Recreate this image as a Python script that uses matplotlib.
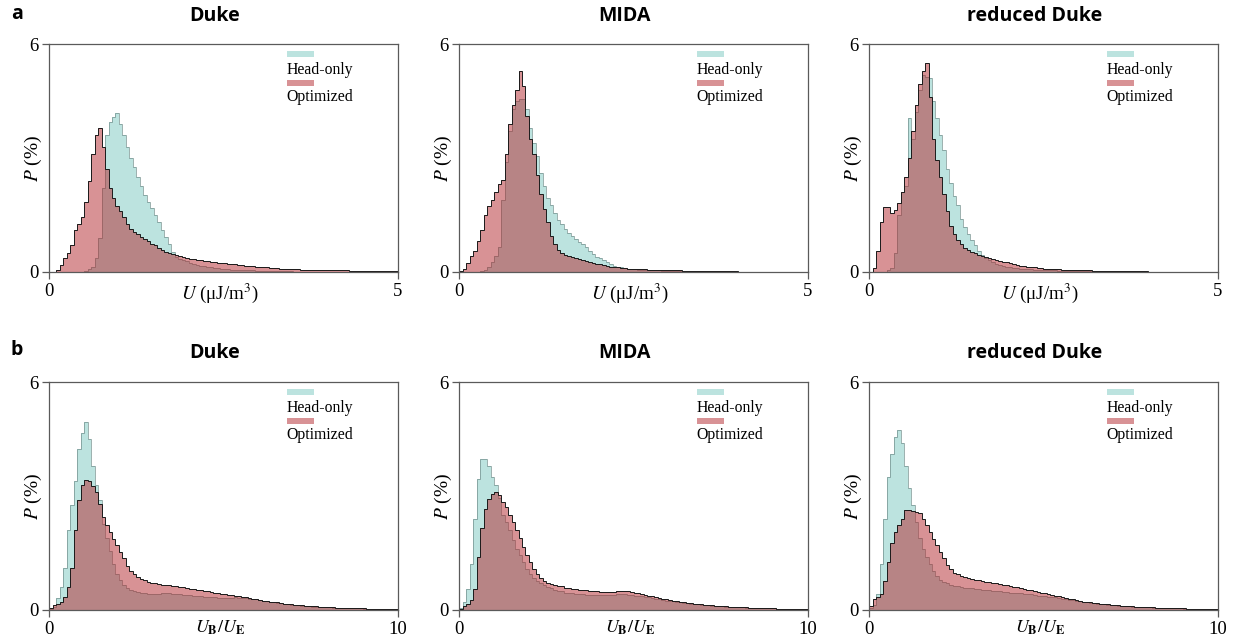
import numpy as np
import matplotlib
matplotlib.use("Agg")
import matplotlib.pyplot as plt
from matplotlib.patches import Rectangle

# ---------------- data ----------------
titles = ["Duke", "MIDA", "reduced Duke"]
row_letters = ["a", "b"]
legend_labels = ["Head-only", "Optimized"]
y_ticks = [0, 6]

# Row a: U (uJ/m^3), 100 bins of width 0.05 from 0 to 5, P in %
u_edges = np.linspace(0, 5, 101)
u_xticks = [0, 5]
duke_u_head = [0, 0, 0, 0, 0, 0, 0, 0, 0, 0,
               0.02, 0.07, 0.13, 0.35, 0.9, 2.2, 3.6, 3.95, 4.07, 4.18,
               3.9, 3.6, 3.3, 3.0, 2.75, 2.5, 2.27, 2.03, 1.85, 1.67,
               1.5, 1.32, 1.1, 0.92, 0.72, 0.52, 0.38, 0.33, 0.30, 0.27,
               0.24, 0.21, 0.18, 0.16, 0.14, 0.12, 0.11, 0.10, 0.09, 0.08,
               0.07, 0.06, 0.05, 0.05, 0.04, 0.04, 0.03, 0.03, 0.03, 0.02,
               0.02, 0.02, 0.02, 0.02, 0.01, 0.01, 0.01, 0.01, 0.01, 0.01,
               0, 0, 0, 0, 0, 0, 0, 0, 0, 0,
               0, 0, 0, 0, 0, 0, 0, 0, 0, 0,
               0, 0, 0, 0, 0, 0, 0, 0, 0, 0]
duke_u_opt = [0, 0, 0.05, 0.18, 0.35, 0.5, 0.7, 1.1, 1.25, 1.45,
              1.85, 2.4, 3.1, 3.6, 3.8, 3.3, 2.7, 2.2, 1.95, 1.72,
              1.6, 1.45, 1.25, 1.12, 1.05, 0.98, 0.92, 0.86, 0.8, 0.73,
              0.69, 0.62, 0.57, 0.53, 0.49, 0.47, 0.44, 0.40, 0.38, 0.35,
              0.34, 0.32, 0.31, 0.30, 0.29, 0.28, 0.26, 0.25, 0.24, 0.23,
              0.22, 0.21, 0.20, 0.19, 0.18, 0.17, 0.16, 0.15, 0.14, 0.13,
              0.12, 0.12, 0.11, 0.10, 0.09, 0.09, 0.08, 0.08, 0.07, 0.07,
              0.06, 0.06, 0.05, 0.05, 0.05, 0.05, 0.04, 0.04, 0.04, 0.04,
              0.03, 0.03, 0.03, 0.03, 0.03, 0.03, 0.02, 0.02, 0.02, 0.02,
              0.02, 0.02, 0.02, 0.02, 0.01, 0.01, 0.01, 0.01, 0.01, 0.01]
mida_u_head = [0, 0, 0, 0, 0, 0, 0.01, 0.04, 0.12, 0.25,
               0.42, 0.65, 1.9, 2.9, 3.7, 4.3, 4.5, 4.55, 4.55, 4.3,
               3.8, 3.4, 3.05, 2.6, 2.25, 1.95, 1.75, 1.55, 1.37, 1.25,
               1.12, 1.03, 0.94, 0.85, 0.78, 0.72, 0.64, 0.55, 0.46, 0.38,
               0.35, 0.30, 0.25, 0.20, 0.16, 0.13, 0.11, 0.09, 0.08, 0.07,
               0.06, 0.05, 0.05, 0.04, 0.04, 0.03, 0.03, 0.03, 0.02, 0.02,
               0.02, 0.02, 0.02, 0.01, 0.01, 0.01, 0.01, 0.01, 0.01, 0.01,
               0, 0, 0, 0, 0, 0, 0, 0, 0, 0,
               0, 0, 0, 0, 0, 0, 0, 0, 0, 0,
               0, 0, 0, 0, 0, 0, 0, 0, 0, 0]
mida_u_opt = [0.02, 0.07, 0.22, 0.4, 0.55, 0.8, 1.1, 1.5, 1.72, 1.9,
              2.1, 2.3, 2.42, 3.1, 3.9, 4.4, 4.8, 5.3, 4.9, 4.1,
              3.5, 3.1, 2.55, 2.05, 1.65, 1.3, 0.95, 0.72, 0.58, 0.5,
              0.45, 0.41, 0.38, 0.35, 0.33, 0.30, 0.28, 0.25, 0.23, 0.21,
              0.19, 0.17, 0.15, 0.13, 0.12, 0.11, 0.10, 0.09, 0.08, 0.08,
              0.07, 0.07, 0.06, 0.06, 0.05, 0.05, 0.05, 0.04, 0.04, 0.04,
              0.03, 0.03, 0.03, 0.03, 0.02, 0.02, 0.02, 0.02, 0.02, 0.02,
              0.01, 0.01, 0.01, 0.01, 0.01, 0.01, 0.01, 0.01, 0.01, 0.01,
              0, 0, 0, 0, 0, 0, 0, 0, 0, 0,
              0, 0, 0, 0, 0, 0, 0, 0, 0, 0]
red_u_head = [0, 0, 0, 0, 0, 0.04, 0.1, 0.5, 1.5, 2.1,
              2.25, 4.05, 3.5, 4.2, 4.8, 5.2, 5.15, 5.1, 4.5, 4.05,
              3.6, 3.2, 2.7, 2.35, 2.0, 1.75, 1.4, 1.18, 0.98, 0.83,
              0.70, 0.55, 0.44, 0.37, 0.30, 0.25, 0.21, 0.18, 0.15, 0.13,
              0.11, 0.10, 0.09, 0.08, 0.07, 0.06, 0.06, 0.05, 0.05, 0.04,
              0.04, 0.03, 0.03, 0.03, 0.02, 0.02, 0.02, 0.02, 0.01, 0.01,
              0.01, 0.01, 0.01, 0.01, 0.01, 0, 0, 0, 0, 0,
              0, 0, 0, 0, 0, 0, 0, 0, 0, 0,
              0, 0, 0, 0, 0, 0, 0, 0, 0, 0,
              0, 0, 0, 0, 0, 0, 0, 0, 0, 0]
red_u_opt = [0, 0.1, 0.55, 1.3, 1.7, 1.7, 1.56, 1.62, 1.8, 2.1,
             2.5, 3.0, 3.7, 4.4, 4.95, 5.3, 5.5, 4.6, 3.5, 2.95,
             2.5, 2.05, 1.6, 1.2, 0.98, 0.83, 0.72, 0.63, 0.57, 0.53,
             0.48, 0.44, 0.40, 0.38, 0.35, 0.33, 0.31, 0.28, 0.26, 0.25,
             0.22, 0.20, 0.18, 0.16, 0.14, 0.13, 0.12, 0.11, 0.10, 0.09,
             0.08, 0.07, 0.07, 0.06, 0.06, 0.05, 0.05, 0.04, 0.04, 0.04,
             0.03, 0.03, 0.03, 0.03, 0.02, 0.02, 0.02, 0.02, 0.02, 0.02,
             0.01, 0.01, 0.01, 0.01, 0.01, 0.01, 0.01, 0.01, 0.01, 0.01,
             0, 0, 0, 0, 0, 0, 0, 0, 0, 0,
             0, 0, 0, 0, 0, 0, 0, 0, 0, 0]

# Row b: U_B/U_E, 100 bins of width 0.1 from 0 to 10, P in %
r_edges = np.linspace(0, 10, 101)
r_xticks = [0, 10]
duke_r_head = [0.02, 0.07, 0.3, 0.6, 1.1, 2.1, 2.75, 3.4, 4.25, 4.65,
               4.95, 4.5, 3.8, 3.3, 2.9, 2.25, 1.9, 1.55, 1.2, 0.95,
               0.77, 0.66, 0.58, 0.53, 0.49, 0.47, 0.45, 0.43, 0.42, 0.41,
               0.42, 0.42, 0.43, 0.43, 0.43, 0.42, 0.41, 0.40, 0.39, 0.39,
               0.38, 0.37, 0.36, 0.35, 0.34, 0.33, 0.33, 0.32, 0.31, 0.30,
               0.30, 0.30, 0.31, 0.32, 0.31, 0.30, 0.30, 0.29, 0.28, 0.27,
               0.26, 0.24, 0.23, 0.21, 0.20, 0.18, 0.17, 0.15, 0.14, 0.13,
               0.12, 0.11, 0.10, 0.10, 0.09, 0.08, 0.08, 0.07, 0.07, 0.06,
               0.06, 0.05, 0.05, 0.04, 0.04, 0.04, 0.03, 0.03, 0.03, 0.03,
               0.02, 0.02, 0.02, 0.02, 0.02, 0.01, 0.01, 0.01, 0.01, 0.01]
duke_r_opt = [0.05, 0.12, 0.16, 0.2, 0.33, 0.6, 1.1, 2.1, 2.9, 3.3,
              3.42, 3.4, 3.25, 3.1, 2.8, 2.45, 2.22, 2.05, 1.87, 1.7,
              1.52, 1.35, 1.16, 1.03, 0.93, 0.86, 0.82, 0.78, 0.73, 0.70,
              0.69, 0.68, 0.66, 0.65, 0.64, 0.63, 0.62, 0.60, 0.59, 0.58,
              0.55, 0.54, 0.53, 0.51, 0.50, 0.48, 0.46, 0.45, 0.43, 0.42,
              0.40, 0.39, 0.38, 0.37, 0.36, 0.34, 0.33, 0.31, 0.29, 0.27,
              0.26, 0.24, 0.23, 0.21, 0.20, 0.19, 0.17, 0.16, 0.15, 0.14,
              0.13, 0.12, 0.11, 0.10, 0.10, 0.09, 0.09, 0.08, 0.07, 0.07,
              0.06, 0.06, 0.05, 0.05, 0.04, 0.04, 0.04, 0.03, 0.03, 0.03,
              0.03, 0.02, 0.02, 0.02, 0.02, 0.01, 0.01, 0.01, 0.01, 0.01]
mida_r_head = [0.03, 0.2, 0.55, 1.2, 2.4, 3.45, 3.97, 3.97, 3.8, 3.5,
               3.28, 2.95, 2.5, 2.3, 2.1, 1.85, 1.6, 1.43, 1.25, 1.08,
               0.93, 0.84, 0.75, 0.69, 0.64, 0.60, 0.56, 0.53, 0.50, 0.48,
               0.45, 0.44, 0.43, 0.42, 0.41, 0.40, 0.39, 0.39, 0.38, 0.38,
               0.38, 0.38, 0.38, 0.39, 0.39, 0.40, 0.40, 0.40, 0.39, 0.38,
               0.37, 0.36, 0.35, 0.33, 0.32, 0.30, 0.28, 0.27, 0.25, 0.24,
               0.23, 0.22, 0.20, 0.19, 0.18, 0.17, 0.16, 0.15, 0.14, 0.13,
               0.12, 0.11, 0.10, 0.10, 0.09, 0.09, 0.08, 0.08, 0.07, 0.07,
               0.06, 0.06, 0.05, 0.05, 0.04, 0.04, 0.04, 0.03, 0.03, 0.03,
               0.03, 0.02, 0.02, 0.02, 0.02, 0.01, 0.01, 0.01, 0.01, 0.01]
mida_r_opt = [0.02, 0.1, 0.14, 0.25, 0.55, 1.4, 2.15, 2.65, 2.92, 3.04,
              3.1, 3.02, 2.85, 2.7, 2.5, 2.3, 2.1, 1.9, 1.66, 1.45,
              1.25, 1.08, 0.95, 0.84, 0.75, 0.70, 0.67, 0.65, 0.63, 0.61,
              0.58, 0.57, 0.55, 0.54, 0.53, 0.52, 0.51, 0.50, 0.49, 0.48,
              0.47, 0.47, 0.47, 0.47, 0.47, 0.48, 0.48, 0.49, 0.48, 0.47,
              0.45, 0.43, 0.41, 0.39, 0.37, 0.35, 0.33, 0.31, 0.29, 0.27,
              0.25, 0.23, 0.22, 0.20, 0.19, 0.18, 0.17, 0.16, 0.15, 0.14,
              0.13, 0.12, 0.11, 0.10, 0.10, 0.09, 0.09, 0.08, 0.08, 0.07,
              0.07, 0.06, 0.06, 0.05, 0.05, 0.04, 0.04, 0.04, 0.03, 0.03,
              0.03, 0.02, 0.02, 0.02, 0.02, 0.01, 0.01, 0.01, 0.01, 0.01]
red_r_head = [0.05, 0.11, 0.4, 1.2, 2.4, 3.5, 4.1, 4.55, 4.73, 4.4,
              3.8, 3.2, 2.75, 2.3, 1.9, 1.6, 1.4, 1.2, 1.03, 0.90,
              0.79, 0.73, 0.69, 0.66, 0.63, 0.61, 0.60, 0.58, 0.57, 0.56,
              0.55, 0.54, 0.53, 0.52, 0.51, 0.50, 0.49, 0.48, 0.47, 0.46,
              0.45, 0.44, 0.44, 0.43, 0.42, 0.41, 0.40, 0.39, 0.37, 0.36,
              0.35, 0.34, 0.33, 0.32, 0.31, 0.29, 0.28, 0.26, 0.25, 0.23,
              0.22, 0.20, 0.19, 0.18, 0.17, 0.16, 0.15, 0.14, 0.13, 0.12,
              0.11, 0.10, 0.10, 0.09, 0.09, 0.08, 0.08, 0.07, 0.07, 0.06,
              0.06, 0.05, 0.05, 0.04, 0.04, 0.04, 0.03, 0.03, 0.03, 0.03,
              0.02, 0.02, 0.02, 0.02, 0.02, 0.01, 0.01, 0.01, 0.01, 0.01]
red_r_opt = [0.09, 0.27, 0.32, 0.4, 0.75, 1.25, 1.75, 2.05, 2.22, 2.4,
             2.62, 2.64, 2.6, 2.58, 2.55, 2.4, 2.22, 2.05, 1.87, 1.7,
             1.52, 1.35, 1.17, 1.06, 0.97, 0.93, 0.90, 0.87, 0.84, 0.81,
             0.79, 0.77, 0.76, 0.74, 0.72, 0.70, 0.69, 0.67, 0.66, 0.64,
             0.62, 0.60, 0.59, 0.57, 0.55, 0.53, 0.51, 0.49, 0.47, 0.45,
             0.43, 0.41, 0.39, 0.37, 0.35, 0.33, 0.31, 0.29, 0.27, 0.25,
             0.23, 0.21, 0.20, 0.19, 0.18, 0.17, 0.16, 0.15, 0.14, 0.13,
             0.12, 0.11, 0.10, 0.10, 0.09, 0.09, 0.08, 0.08, 0.07, 0.07,
             0.06, 0.06, 0.05, 0.05, 0.04, 0.04, 0.04, 0.03, 0.03, 0.03,
             0.03, 0.02, 0.02, 0.02, 0.02, 0.01, 0.01, 0.01, 0.01, 0.01]

# ---------------- style ----------------
plt.rcParams["font.family"] = ["Liberation Serif", "DejaVu Serif"]
plt.rcParams["mathtext.fontset"] = "stix"

TEAL = "#7bc9c1"
TEAL_EDGE = "#6f8c89"
RED = "#b3272d"
RED_EDGE = "#1a1a1a"
SPINE = "#5a5a5a"

W, H = 1242, 640
fig = plt.figure(figsize=(W / 100, H / 100), dpi=100)

col_left = [49.3, 459.3, 869.3]
ax_w = 348.4
row_top = [44.3, 382.3]
ax_h = 227.3

rows = [
    (u_edges, u_xticks, [(duke_u_head, duke_u_opt), (mida_u_head, mida_u_opt), (red_u_head, red_u_opt)],
     "$U$ (μJ/m$^3$)", -0.094, 13.7),
    (r_edges, r_xticks, [(duke_r_head, duke_r_opt), (mida_r_head, mida_r_opt), (red_r_head, red_r_opt)],
     r"$U_{\mathbf{B}}/U_{\mathbf{E}}$", -0.08, 13),
]

for ri, (edges, xt, series, xlabel, xl_y, xl_fs) in enumerate(rows):
    for ci in range(3):
        left = col_left[ci] / W
        bottom = 1 - (row_top[ri] + ax_h) / H
        ax = fig.add_axes([left, bottom, ax_w / W, ax_h / H])
        head, opt = series[ci]
        ax.stairs(head, edges, fill=True, color=TEAL, alpha=0.5, lw=0)
        ax.stairs(head, edges, color=TEAL_EDGE, lw=0.6, alpha=0.8)
        ax.stairs(opt, edges, fill=True, color=RED, alpha=0.5, lw=0)
        ax.stairs(opt, edges, color=RED_EDGE, lw=0.7)
        ax.set_xlim(edges[0], edges[-1])
        ax.set_ylim(0, 6)
        ax.set_xticks(xt)
        ax.set_yticks(y_ticks)
        ax.tick_params(direction="out", length=5, width=0.9, color=SPINE,
                       labelsize=13.5, pad=2.5)
        ax.tick_params(axis="x", pad=3)
        for sp in ax.spines.values():
            sp.set_color(SPINE)
            sp.set_linewidth(0.9)
        ax.text(-0.046, 0.5, "$P$ (%)", transform=ax.transAxes, rotation=90,
                ha="center", va="center", fontsize=14)
        ax.text(0.49, xl_y, xlabel, transform=ax.transAxes,
                ha="center", va="center", fontsize=xl_fs)
        # legend (patch above its label)
        ax.add_patch(Rectangle((0.682, 0.943), 0.078, 0.029, transform=ax.transAxes,
                               facecolor=TEAL, alpha=0.5, lw=0, clip_on=False))
        ax.text(0.680, 0.887, legend_labels[0], transform=ax.transAxes,
                ha="left", va="center", fontsize=11.3)
        ax.add_patch(Rectangle((0.682, 0.817), 0.078, 0.026, transform=ax.transAxes,
                               facecolor=RED, alpha=0.5, lw=0, clip_on=False))
        ax.text(0.680, 0.767, legend_labels[1], transform=ax.transAxes,
                ha="left", va="center", fontsize=11.3)
        # title
        cx = (col_left[ci] + ax_w / 2 - 8.5) / W
        ty = 1 - (15.7 if ri == 0 else 353) / H
        fig.text(cx, ty, titles[ci], ha="center", va="center", fontsize=14,
                 fontweight="bold", family=["Open Sans", "DejaVu Sans"])
    ly = 1 - (14 if ri == 0 else 350) / H
    fig.text(16.7 / W, ly, row_letters[ri], ha="center", va="center", fontsize=14,
             fontweight="bold", family=["Open Sans", "DejaVu Sans"])

fig.savefig("out.png", dpi=100)
